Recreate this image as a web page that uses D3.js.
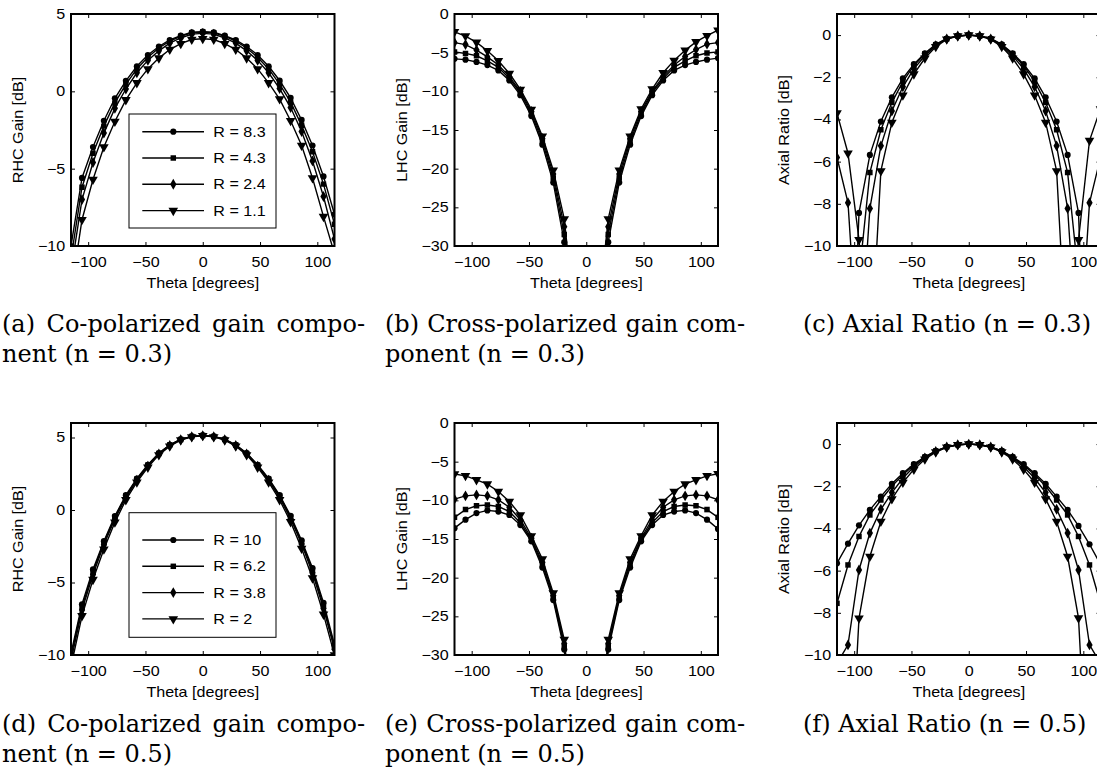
<!DOCTYPE html>
<html>
<head>
<meta charset="utf-8">
<script src="https://cdnjs.cloudflare.com/ajax/libs/d3/7.8.5/d3.min.js"></script>
<style>
  body { margin: 0; background: #fff; }
  .tick text, .lbl, .leg text { font-family: "Liberation Sans", Arial, sans-serif; font-size: 14px; fill: #000; }
  .cap { font-family: "DejaVu Serif", serif; font-size: 24px; fill: #000; }
</style>
</head>
<body>
<svg id="fig" width="1097" height="780"></svg>
<script>
// sample angles (degrees)
const theta = [-115, -105.4, -95.8, -86.3, -76.7, -67.1, -57.5, -47.9, -38.3, -28.8, -19.2, -9.6, 0,
               9.6, 19.2, 28.8, 38.3, 47.9, 57.5, 67.1, 76.7, 86.3, 95.8, 105.4, 115];

const xTicks = [-100, -50, 0, 50, 100];
const gainTicks = [-10, -5, 0, 5];
const lhcTicks = [-30, -25, -20, -15, -10, -5, 0];
const arTicks = [-10, -8, -6, -4, -2, 0];

const legend03 = ["R = 8.3", "R = 4.3", "R = 2.4", "R = 1.1"];
const legend05 = ["R = 10", "R = 6.2", "R = 3.8", "R = 2"];

// n = 0.3, RHC gain
const rhc03_a = [-10.0, -5.6, -3.6, -1.9, -0.45, 0.68, 1.62, 2.35, 2.9, 3.32, 3.6, 3.82, 3.86,
                 3.82, 3.6, 3.32, 2.9, 2.35, 1.62, 0.7, -0.42, -1.85, -3.5, -5.5, -7.95];
const rhc03_b = [-10.8, -6.2, -4.0, -2.25, -0.75, 0.45, 1.45, 2.2, 2.8, 3.25, 3.55, 3.78, 3.84,
                 3.78, 3.55, 3.25, 2.8, 2.2, 1.45, 0.47, -0.7, -2.2, -3.9, -6.0, -8.6];
const rhc03_c = [-11.6, -7.0, -4.6, -2.7, -1.1, 0.15, 1.2, 2.0, 2.62, 3.12, 3.45, 3.7, 3.75,
                 3.7, 3.45, 3.12, 2.62, 2.0, 1.2, 0.18, -1.05, -2.6, -4.5, -6.8, -9.55];
const rhc03_d = [-13.0, -8.3, -5.7, -3.6, -1.95, -0.55, 0.55, 1.45, 2.15, 2.7, 3.08, 3.35, 3.4,
                 3.35, 3.08, 2.7, 2.15, 1.45, 0.55, -0.5, -1.9, -3.5, -5.6, -8.1, -10.5];

// n = 0.3, LHC gain
const lhc03_a = [-5.8, -5.9, -6.2, -6.6, -7.3, -8.6, -10.5, -13.2, -16.9, -21.8, -29.5, -43, -50,
                 -43, -29.5, -21.8, -16.9, -13.2, -10.5, -8.6, -7.3, -6.6, -6.2, -5.9, -5.7];
const lhc03_b = [-4.9, -5.1, -5.4, -6.05, -6.9, -8.35, -10.2, -12.9, -16.5, -21.2, -28.5, -42, -50,
                 -42, -28.5, -21.2, -16.5, -12.9, -10.2, -8.35, -6.9, -6.05, -5.4, -5.05, -4.9];
const lhc03_c = [-3.7, -3.95, -4.66, -5.55, -6.6, -8.1, -10.0, -12.6, -16.1, -20.7, -27.5, -41, -50,
                 -41, -27.5, -20.7, -16.1, -12.6, -10.0, -8.1, -6.6, -5.5, -4.6, -3.9, -3.7];
const lhc03_d = [-2.3, -2.85, -3.67, -4.75, -6.05, -7.7, -9.75, -12.35, -15.8, -20.2, -26.5, -40, -50,
                 -40, -26.5, -20.2, -15.8, -12.3, -9.7, -7.6, -6.0, -4.7, -3.6, -2.8, -2.1];

// n = 0.3, axial ratio
const ar03_a = [-14, -22, -8.43, -5.68, -4.1, -2.95, -2.05, -1.38, -0.86, -0.44, -0.16, -0.04, 0,
                -0.04, -0.16, -0.44, -0.86, -1.38, -2.05, -2.95, -4.1, -5.68, -8.43, -22, -14];
const ar03_b = [-13, -18, -11.5, -6.52, -4.49, -3.2, -2.2, -1.45, -0.9, -0.46, -0.17, -0.04, 0,
                -0.04, -0.17, -0.46, -0.9, -1.45, -2.2, -3.2, -4.49, -6.52, -11.5, -18, -13];
const ar03_c = [-5.8, -7.95, -16, -8.22, -5.25, -3.6, -2.45, -1.6, -0.98, -0.5, -0.18, -0.04, 0,
                -0.04, -0.18, -0.5, -0.98, -1.6, -2.45, -3.6, -5.25, -8.22, -16, -7.95, -5.8];
const ar03_d = [-3.7, -5.6, -9.7, -16, -6.44, -4.14, -2.85, -1.85, -1.1, -0.55, -0.2, -0.05, 0,
                -0.05, -0.2, -0.55, -1.1, -1.85, -2.85, -4.14, -6.44, -16, -9.7, -5.0, -3.5];

// n = 0.5, RHC gain
const rhc05_a = [-9.9, -6.5, -4.1, -2.15, -0.42, 1.02, 2.17, 3.12, 3.93, 4.5, 4.88, 5.08, 5.15,
                 5.08, 4.88, 4.5, 3.93, 3.12, 2.17, 1.02, -0.4, -2.1, -4.0, -6.4, -9.3];
const rhc05_b = [-10.1, -6.7, -4.25, -2.25, -0.5, 0.96, 2.12, 3.08, 3.9, 4.48, 4.86, 5.07, 5.14,
                 5.07, 4.86, 4.48, 3.9, 3.08, 2.12, 0.96, -0.48, -2.2, -4.15, -6.6, -9.45];
const rhc05_c = [-10.4, -6.9, -4.45, -2.4, -0.62, 0.86, 2.05, 3.03, 3.86, 4.45, 4.85, 5.06, 5.13,
                 5.06, 4.85, 4.45, 3.86, 3.03, 2.05, 0.86, -0.6, -2.35, -4.35, -6.8, -9.6];
const rhc05_d = [-10.8, -7.3, -4.8, -2.7, -0.85, 0.7, 1.92, 2.94, 3.8, 4.4, 4.82, 5.04, 5.12,
                 5.04, 4.82, 4.4, 3.8, 2.94, 1.92, 0.7, -0.82, -2.65, -4.7, -7.2, -10.0];

// n = 0.5, LHC gain
const lhc05_a = [-13.6, -12.5, -11.65, -11.3, -11.45, -11.9, -13.2, -15.3, -18.7, -22.9, -29.3, -45, -55,
                 -45, -29.3, -22.9, -18.7, -15.3, -13.2, -11.9, -11.45, -11.3, -11.65, -12.5, -13.7];
const lhc05_b = [-12.2, -11.2, -10.7, -10.6, -10.8, -11.45, -12.9, -15.1, -18.3, -22.6, -28.9, -44, -55,
                 -44, -28.9, -22.6, -18.3, -15.1, -12.9, -11.45, -10.8, -10.6, -10.7, -11.2, -12.2];
const lhc05_c = [-9.85, -9.42, -9.3, -9.42, -9.94, -10.9, -12.5, -14.9, -18.0, -22.3, -28.5, -43, -55,
                 -43, -28.5, -22.3, -18.0, -14.9, -12.5, -10.9, -9.94, -9.42, -9.3, -9.42, -9.94];
const lhc05_d = [-6.6, -6.83, -7.35, -7.9, -8.86, -10.15, -11.9, -14.6, -17.6, -22.0, -28.0, -42, -55,
                 -42, -28.0, -22.0, -17.6, -14.6, -11.9, -10.15, -8.86, -7.9, -7.35, -6.83, -6.57];

// n = 0.5, axial ratio
const ar05_a = [-5.65, -4.72, -3.85, -3.12, -2.49, -1.88, -1.38, -0.95, -0.6, -0.32, -0.13, -0.03, 0,
                -0.03, -0.13, -0.32, -0.6, -0.95, -1.38, -1.88, -2.49, -3.12, -3.88, -4.75, -5.7];
const ar05_b = [-7.55, -5.73, -4.38, -3.36, -2.65, -2.0, -1.45, -1.0, -0.62, -0.33, -0.13, -0.03, 0,
                -0.03, -0.13, -0.33, -0.62, -1.0, -1.45, -2.0, -2.65, -3.36, -4.38, -5.73, -7.55];
const ar05_c = [-10.4, -9.52, -5.97, -4.22, -3.09, -2.3, -1.62, -1.08, -0.66, -0.35, -0.14, -0.03, 0,
                -0.03, -0.14, -0.35, -0.66, -1.08, -1.62, -2.3, -3.09, -4.22, -5.97, -9.52, -10.4];
const ar05_d = [-25, -18, -8.26, -5.33, -3.67, -2.6, -1.82, -1.2, -0.72, -0.38, -0.15, -0.03, 0,
                -0.03, -0.15, -0.38, -0.72, -1.2, -1.82, -2.6, -3.67, -5.33, -8.25, -18, -25];

const markers = [d3.symbolCircle, d3.symbolSquare, d3.symbolDiamond, d3.symbolTriangle];
const markerSize = [30, 30, 34, 40];

const W = 263.5, H = 232;
// the matlab fonts in the picture are wider than they are tall
const wide = "scale(1.15,1)";

const panels = [
  {left: 71, top: 14, y: [-10, 5], ticks: gainTicks, ylabel: "RHC Gain [dB]",
   series: [rhc03_a, rhc03_b, rhc03_c, rhc03_d], legend: legend03,
   box: {x: 58, y: 100, w: 147, h: 114, r0: 17.7, dr: 26.3},
   cap: ["(a) Co-polarized gain compo-", "nent (n = 0.3)"], capX: 2, capY: 332, just: 363},
  {left: 454.5, top: 14, y: [-30, 0], ticks: lhcTicks, ylabel: "LHC Gain [dB]",
   series: [lhc03_a, lhc03_b, lhc03_c, lhc03_d],
   cap: ["(b) Cross-polarized gain com-", "ponent (n = 0.3)"], capX: 385, capY: 332, just: 360},
  {left: 837, top: 14, y: [-10, 1], ticks: arTicks, ylabel: "Axial Ratio [dB]",
   series: [ar03_a, ar03_b, ar03_c, ar03_d],
   cap: ["(c) Axial Ratio (n = 0.3)"], capX: 803, capY: 332},
  {left: 71, top: 423, y: [-10, 6], ticks: gainTicks, ylabel: "RHC Gain [dB]",
   series: [rhc05_a, rhc05_b, rhc05_c, rhc05_d], legend: legend05,
   box: {x: 58, y: 89.7, w: 147, h: 124.6, r0: 27.3, dr: 26.3},
   cap: ["(d) Co-polarized gain compo-", "nent (n = 0.5)"], capX: 2, capY: 732, just: 363},
  {left: 454.5, top: 423, y: [-30, 0], ticks: lhcTicks, ylabel: "LHC Gain [dB]",
   series: [lhc05_a, lhc05_b, lhc05_c, lhc05_d],
   cap: ["(e) Cross-polarized gain com-", "ponent (n = 0.5)"], capX: 385, capY: 732, just: 360},
  {left: 837, top: 423, y: [-10, 1], ticks: arTicks, ylabel: "Axial Ratio [dB]",
   series: [ar05_a, ar05_b, ar05_c, ar05_d],
   cap: ["(f) Axial Ratio (n = 0.5)"], capX: 803, capY: 732}
];

const svg = d3.select("#fig");

function symbolPath(i) {
  return d3.symbol().type(markers[i]).size(markerSize[i])();
}
function symbolTransform(i, px, py) {
  return "translate(" + px + "," + py + ")" + (i == 3 ? " rotate(180)" : "");
}

panels.forEach((p, k) => {
  const x = d3.scaleLinear().domain([-115, 115]).range([0, W]);
  const y = d3.scaleLinear().domain(p.y).range([H, 0]);

  const g = svg.append("g").attr("transform", "translate(" + p.left + "," + p.top + ")");

  g.append("clipPath").attr("id", "clip" + k)
    .append("rect").attr("width", W).attr("height", H);

  const plot = g.append("g").attr("clip-path", "url(#clip" + k + ")");

  const line = d3.line().x((d, i) => x(theta[i])).y(d => y(d));

  p.series.forEach((s, i) => {
    plot.append("path")
      .attr("d", line(s))
      .attr("fill", "none")
      .attr("stroke", "#000")
      .attr("stroke-width", 1.4);

    plot.selectAll(".m" + i)
      .data(s.map((v, j) => [theta[j], v]).filter(d => d[1] >= p.y[0] && d[1] <= p.y[1]))
      .enter()
      .append("path")
      .attr("d", symbolPath(i))
      .attr("transform", d => symbolTransform(i, x(d[0]), y(d[1])))
      .attr("fill", "#000");
  });

  // axes, ticks pointing inward like matlab
  const bx = g.append("g").attr("transform", "translate(0," + H + ")")
    .call(d3.axisBottom(x).tickValues(xTicks).tickSizeInner(-4).tickSizeOuter(0).tickPadding(11));
  const tx = g.append("g")
    .call(d3.axisTop(x).tickValues(xTicks).tickSizeInner(-4).tickSizeOuter(0).tickFormat(""));
  const ly = g.append("g")
    .call(d3.axisLeft(y).tickValues(p.ticks).tickSizeInner(-4).tickSizeOuter(0).tickPadding(5));
  const ry = g.append("g").attr("transform", "translate(" + W + ",0)")
    .call(d3.axisRight(y).tickValues(p.ticks).tickSizeInner(-4).tickSizeOuter(0).tickFormat(""));
  [bx, tx, ly, ry].forEach(a => {
    a.select(".domain").remove();
    a.selectAll("line").attr("stroke", "#000").attr("stroke-width", 1);
    a.selectAll("text").attr("transform", wide);
  });

  g.append("rect")
    .attr("width", W).attr("height", H)
    .attr("fill", "none").attr("stroke", "#000").attr("stroke-width", 2);

  g.append("text").attr("class", "lbl")
    .attr("transform", "translate(" + (W / 2) + "," + (H + 42) + ") " + wide)
    .attr("text-anchor", "middle")
    .text("Theta [degrees]");

  g.append("text").attr("class", "lbl")
    .attr("transform", "translate(-48," + (H / 2) + ") rotate(-90) " + wide)
    .attr("text-anchor", "middle")
    .text(p.ylabel);

  if (p.legend) {
    const b = p.box;
    const leg = g.append("g").attr("class", "leg").attr("transform", "translate(" + b.x + "," + b.y + ")");
    leg.append("rect").attr("width", b.w).attr("height", b.h)
      .attr("fill", "#fff").attr("stroke", "#000").attr("stroke-width", 1);
    p.legend.forEach((name, i) => {
      const ry0 = b.r0 + i * b.dr;
      leg.append("line").attr("x1", 13.3).attr("x2", 75).attr("y1", ry0).attr("y2", ry0)
        .attr("stroke", "#000").attr("stroke-width", 1.4);
      leg.append("path").attr("d", symbolPath(i)).attr("transform", symbolTransform(i, 44.3, ry0)).attr("fill", "#000");
      leg.append("text").attr("transform", "translate(84.3," + ry0 + ") " + wide)
        .attr("dy", "0.36em").text(name);
    });
  }

  // caption, first line justified to the column width
  p.cap.forEach((txt, i) => {
    const t = svg.append("text").attr("class", "cap")
      .attr("x", p.capX).attr("y", p.capY + i * 29.5)
      .text(txt);
    if (i == 0 && p.just) {
      const nat = t.node().getComputedTextLength();
      const gaps = txt.split(" ").length - 1;
      t.attr("word-spacing", (p.just - nat) / gaps);
    }
  });
});
</script>
</body>
</html>
